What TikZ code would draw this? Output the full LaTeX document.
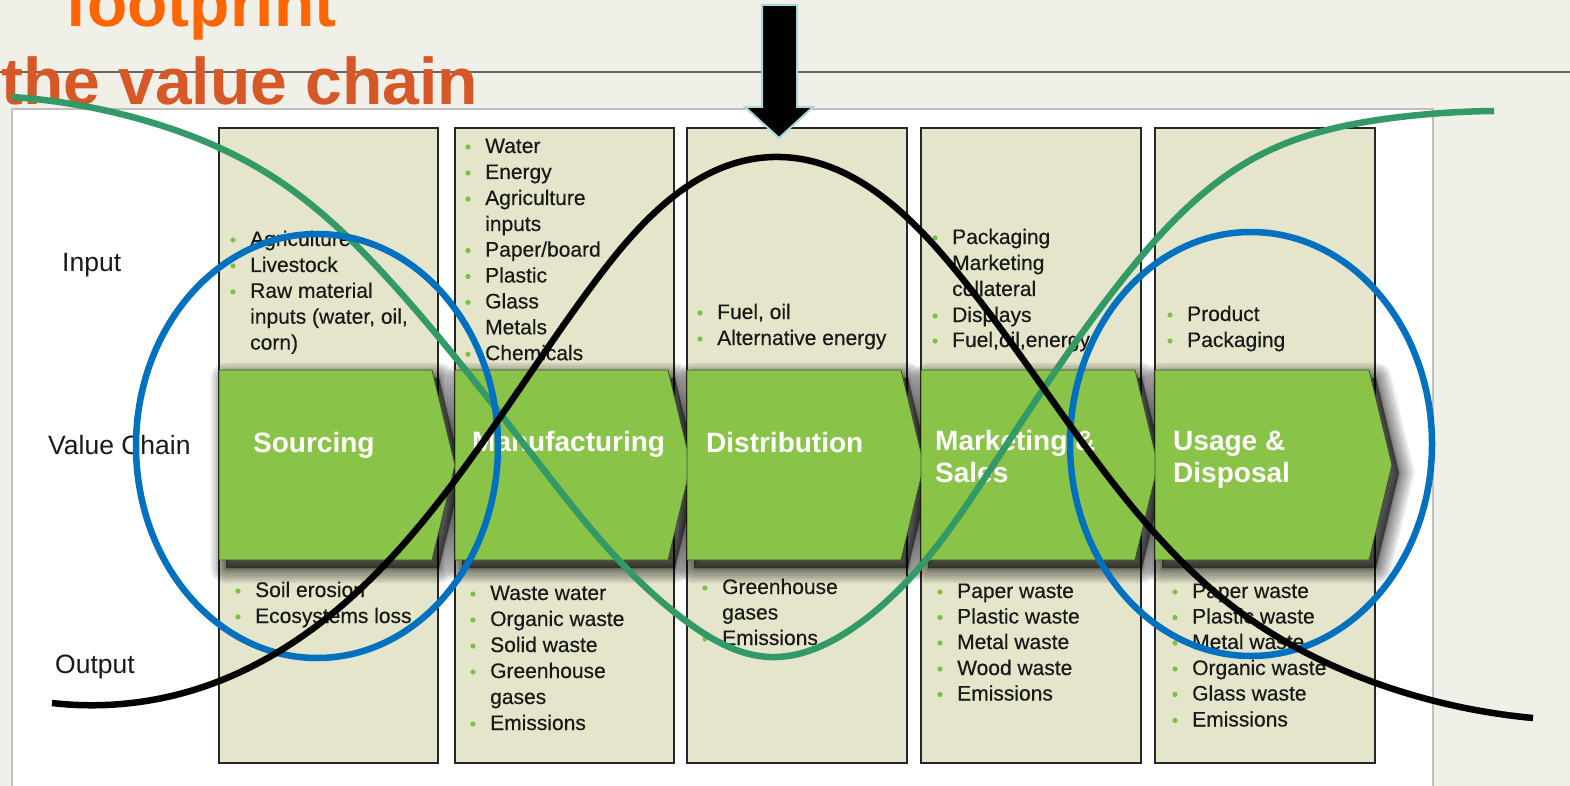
\documentclass[tikz,border=0pt]{standalone}
\usepackage{fontspec}
\setmainfont{Liberation Sans}
\usetikzlibrary{hobby}
\definecolor{bgc}{RGB}{241,240,232}
\definecolor{colbg}{RGB}{229,229,204}
\definecolor{chevgreen}{RGB}{137,195,72}
\definecolor{chevedge}{RGB}{60,80,40}
\definecolor{bulletgreen}{RGB}{125,193,66}
\definecolor{titleA}{RGB}{255,102,0}
\definecolor{titleB}{RGB}{214,88,38}
\definecolor{curvegreen}{RGB}{51,153,102}
\definecolor{curveblue}{RGB}{0,112,192}
\definecolor{arrowedge}{RGB}{170,215,220}
\newcommand\inb[4]{\node[item] (#1) at (#2,#3) {#4}; \fill[bulletgreen] (#1.base west) ++(-17,-6) circle (2.6);}
\newcommand\inc[4]{\node[item] (#1) at (#2,#3) {#4};}
\begin{document}
\begin{tikzpicture}[x=1pt,y=-1pt,
  item/.style={anchor=base west, inner sep=0pt, font=\fontsize{21}{25}\selectfont\addfontfeatures{FakeBold=0.4}, text=black!90},
  rowlab/.style={anchor=base west, inner sep=0pt, font=\fontsize{26.5}{30}\selectfont, text=black!90},
  chevlab/.style={anchor=base west, inner sep=0pt, font=\fontsize{28}{32}\selectfont\bfseries, text=white},
  titlelab/.style={anchor=base west, inner sep=0pt, font=\fontsize{66}{70}\selectfont\bfseries},
  colbox/.style={fill=colbg, draw=black!85, line width=1.6pt},
  chev/.style={fill=chevgreen, draw=chevedge, line width=0.8pt},
  chevshadow/.style={black, fill=black, opacity=0.09, line join=round},
  curveline/.style={line width=6.5pt, line cap=butt},
]
\useasboundingbox (0,0) rectangle (1570,786);
\fill[bgc] (0,0) rectangle (1570,786);
% header rule
\draw[black!60, line width=2pt] (0,72) -- (1570,72);
% title
\node[titlelab, text=titleA] (t1) at (65,27) {footprint};
\node[titlelab, text=titleB] (t2) at (1,105) {the value chain};
% white panel
\draw[fill=white, draw=black!25, line width=1.5pt] (12,109) rectangle (1433,800);
% columns
\foreach \l/\r in {219/438, 455/674, 687/907, 921/1141, 1155/1375}{
  \draw[colbox] (\l,128) rectangle (\r,763);
}
% chevron shadows
\foreach \l/\r in {219/438, 455/674, 687/907, 921/1141, 1155/1375}{
  \foreach \w in {30,25,20,15,10,6,3,0.2}{
    \draw[chevshadow, line width=\w pt, shift={(7,8)}] (\l,370) -- (\r-6,370) -- (\r+17,465) -- (\r-6,560) -- (\l,560) -- cycle;
  }
}
% chevrons
\foreach \l/\r in {219/438, 455/674, 687/907, 921/1141, 1155/1375}{
  \draw[chev] (\l,370) -- (\r-6,370) -- (\r+17,465) -- (\r-6,560) -- (\l,560) -- cycle;
}
% chevron labels
\node[chevlab] (c1) at (253,452) {Sourcing};
\node[chevlab] (c2) at (472,451) {Manufacturing};
\node[chevlab] (c3) at (706,452) {Distribution};
\node[chevlab] (c4a) at (935,450) {Marketing \&};
\node[chevlab] (c4b) at (935,482) {Sales};
\node[chevlab] (c5a) at (1173,450) {Usage \&};
\node[chevlab] (c5b) at (1173,482) {Disposal};
% row labels
\node[rowlab] (rin) at (62,271) {Input};
\node[rowlab] (rvc) at (48,454) {Value Chain};
\node[rowlab] (rout) at (55,673) {Output};
% inputs col 1
\inb{i1a}{250}{246}{Agriculture}
\inb{i1b}{250}{272}{Livestock}
\inb{i1c}{250}{297.8}{Raw material}
\inc{i1d}{250}{323.7}{inputs (water, oil,}
\inc{i1e}{250}{349.6}{corn)}
% inputs col 2
\inb{i2a}{485}{153}{Water}
\inb{i2b}{485}{179}{Energy}
\inb{i2c}{485}{205}{Agriculture}
\inc{i2d}{485}{231}{inputs}
\inb{i2e}{485}{256.6}{Paper/board}
\inb{i2f}{485}{282.5}{Plastic}
\inb{i2g}{485}{308.4}{Glass}
\inb{i2h}{485}{334.3}{Metals}
\inb{i2i}{485}{360.2}{Chemicals}
% inputs col 3
\inb{i3a}{717}{319}{Fuel, oil}
\inb{i3b}{717}{345}{Alternative energy}
% inputs col 4
\inb{i4a}{952}{244}{Packaging}
\inc{i4b}{952}{270}{Marketing}
\inc{i4c}{952}{296}{collateral}
\inb{i4d}{952}{322}{Displays}
\inb{i4e}{952}{347}{Fuel,oil,energy}
% inputs col 5
\inb{i5a}{1187}{321}{Product}
\inb{i5b}{1187}{347}{Packaging}
% outputs col 1
\inb{o1a}{255}{597}{Soil erosion}
\inb{o1b}{255}{623}{Ecosystems loss}
% outputs col 2
\inb{o2a}{490}{600}{Waste water}
\inb{o2b}{490}{626}{Organic waste}
\inb{o2c}{490}{652}{Solid waste}
\inb{o2d}{490}{678}{Greenhouse}
\inc{o2e}{490}{704}{gases}
\inb{o2f}{490}{730}{Emissions}
% outputs col 3
\inb{o3a}{722}{594}{Greenhouse}
\inc{o3b}{722}{619.5}{gases}
\inb{o3c}{722}{645}{Emissions}
% outputs col 4
\inb{o4a}{957}{598}{Paper waste}
\inb{o4b}{957}{623.5}{Plastic waste}
\inb{o4c}{957}{649}{Metal waste}
\inb{o4d}{957}{675}{Wood waste}
\inb{o4e}{957}{700.5}{Emissions}
% outputs col 5
\inb{o5a}{1192}{598}{Paper waste}
\inb{o5b}{1192}{623.5}{Plastic waste}
\inb{o5c}{1192}{649}{Metal waste}
\inb{o5d}{1192}{675}{Organic waste}
\inb{o5e}{1192}{700.5}{Glass waste}
\inb{o5f}{1192}{726.5}{Emissions}
% green curve
\draw[curveline, curvegreen, use Hobby shortcut]
 (12,97) .. (150,122) .. (270,175) .. (400,292)
 .. (540,465) .. (690,624) .. (770,657) .. (850,630)
 .. (990,470) .. (1130,270) .. (1260,155) .. (1400,117) .. (1494,111);
% blue ellipses
\draw[curveblue, line width=6.5pt] (317,446) ellipse [x radius=181, y radius=212];
\draw[curveblue, line width=6.5pt] (1251,444) ellipse [x radius=181, y radius=212];
% black curve
\draw[curveline, black, use Hobby shortcut]
 (52,703) .. (200,688) .. (333,613) .. (470,460)
 .. (600,275) .. (773,157) .. (947,260)
 .. (1100,466) .. (1240,612) .. (1373,682) .. (1533,718);
% top arrow
\draw[fill=black, draw=arrowedge, line width=2pt, line join=miter]
  (762,5) -- (797,5) -- (797,107) -- (813,107) -- (779,138) -- (745,107) -- (762,107) -- cycle;
\end{tikzpicture}
\end{document}
